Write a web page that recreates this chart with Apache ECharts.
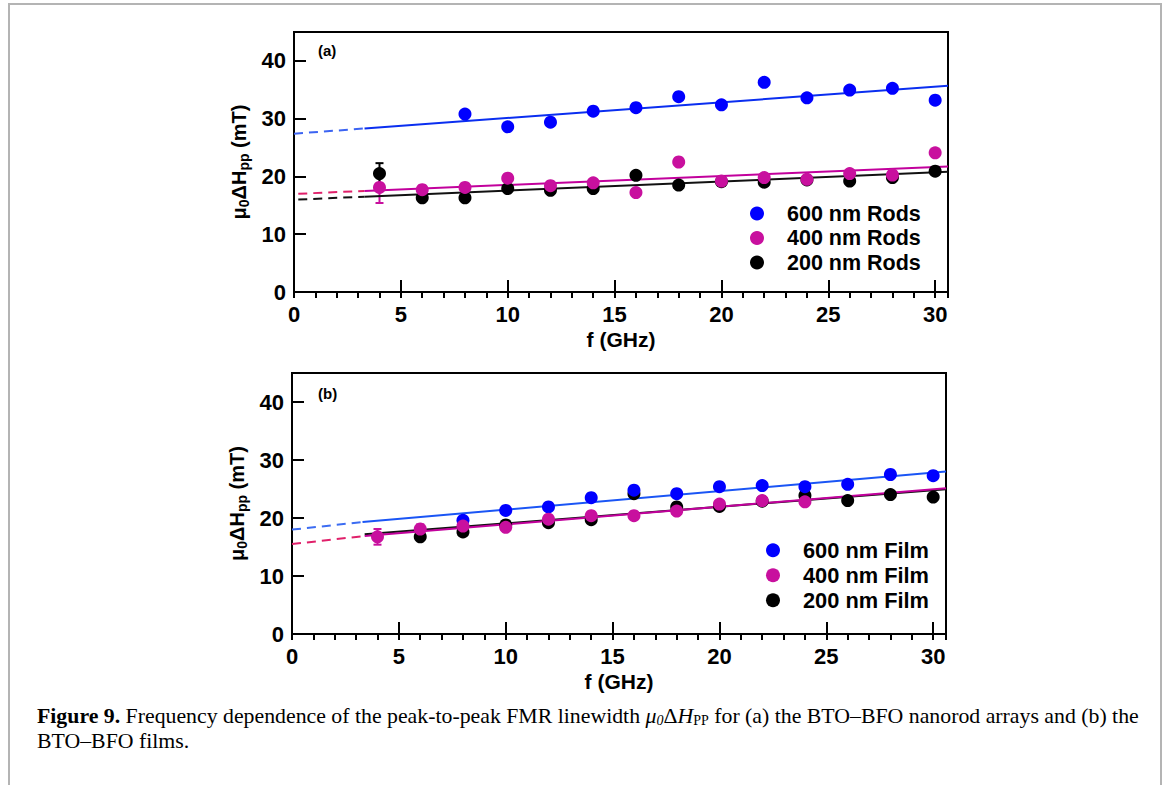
<!DOCTYPE html>
<html><head><meta charset="utf-8">
<script src="https://cdn.jsdelivr.net/npm/echarts@6/dist/echarts.min.js"></script>
<style>html,body{margin:0;padding:0;background:#fff}#c{width:1168px;height:785px}</style>
</head><body><div id="c"></div><script>
// ---------- data ----------
const freqRods600 = [8,10,12,14,16,18,20,22,24,26,28,30];
const rods600     = [30.8,28.6,29.4,31.3,31.9,33.8,32.4,36.3,33.6,34.95,35.25,33.2];
const freqRods400 = [4,6,8,10,12,14,16,18,20,22,24,26,28,30];
const rods400     = [18.1,17.7,18.1,19.7,18.4,18.9,17.2,22.5,19.2,19.8,19.5,20.5,20.25,24.1];
const freqRods200 = [4,6,8,10,12,14,16,18,20,22,24,26,28,30];
const rods200     = [20.5,16.3,16.3,17.9,17.6,17.9,20.2,18.5,19.1,19.0,19.4,19.2,19.8,20.9];

const freqFilm600 = [8,10,12,14,16,18,20,22,24,26,28,30];
const film600     = [19.6,21.3,21.9,23.5,24.8,24.2,25.4,25.6,25.4,25.8,27.5,27.3];
const freqFilm400 = [4,6,8,10,12,14,16,18,20,22,24];
const film400     = [16.75,18.1,18.6,18.4,19.8,20.4,20.4,21.2,22.4,23.0,22.8];
const freqFilm200 = [6,8,10,12,14,16,18,20,22,24,26,28,30];
const film200     = [16.75,17.6,18.8,19.2,19.7,24.2,21.9,22.0,22.9,23.9,23.0,24.05,23.6];

// error bars: [f, low, high]
const errRods600 = [[8,30.2,31.4]];
const errRods400 = [[4,15.4,20.7],[6,17.1,18.4]];
const errRods200 = [[4,18.7,22.3]];
const errFilm400 = [[4,15.4,18.1],[6,17.3,18.9]];

// linear-fit lines (endpoints): dashed extrapolation + solid fit
const fitRods600Dash  = [[0,27.4],[3.3,28.3]];
const fitRods600Solid = [[3.3,28.3],[30.6,35.7]];
const fitRods400Dash  = [[0.2,17.0],[3.3,17.5]];
const fitRods400Solid = [[3.3,17.5],[30.6,21.7]];
const fitRods200Dash  = [[0.2,16.0],[3.3,16.5]];
const fitRods200Solid = [[3.3,16.5],[30.6,20.8]];
const fitFilm600Dash  = [[0,18.0],[3.3,19.3]];
const fitFilm600Solid = [[3.3,19.3],[30.6,28.0]];
const fitFilm400Dash  = [[0,15.5],[3.4,16.9]];
const fitFilm400Solid = [[3.4,16.9],[30.6,25.15]];
const fitFilm200Solid = [[3.4,17.2],[30.6,24.95]];

const yTicks = [0,10,20,30,40];
const xTicks = [0,5,10,15,20,25,30];
const legendRods = ['600 nm Rods','400 nm Rods','200 nm Rods'];
const legendFilm = ['600 nm Film','400 nm Film','200 nm Film'];

// ---------- styling ----------
const FONT = "'Liberation Sans', Arial, Helvetica, sans-serif";
const SERIF = "'Liberation Serif', 'Times New Roman', serif";
const BLUE = '#0000ff', MAG = '#c8109e', BLK = '#000000';

function pairs(xs, ys){ return xs.map((x,i)=>[x, ys[i]]); }

function xMajor(g){
  return {type:'value', gridIndex:g, min:0, max:30.6, interval:5,
    axisLine:{show:true,onZero:false,lineStyle:{color:'#000',width:2}},
    axisTick:{show:true,inside:true,length:12,lineStyle:{color:'#000',width:2}},
    axisLabel:{margin:11,color:'#000',fontFamily:FONT,fontWeight:'bold',fontSize:22,
      formatter:v=> xTicks.indexOf(v)>=0 ? String(v) : ''},
    splitLine:{show:false},
    name:'f (GHz)', nameLocation:'middle', nameGap:37,
    nameTextStyle:{color:'#000',fontFamily:FONT,fontWeight:'bold',fontSize:21}};
}
function xMinor(g){
  return {type:'value', gridIndex:g, min:0, max:30.6, interval:1,
    axisLine:{show:false}, axisLabel:{show:false}, splitLine:{show:false},
    axisTick:{show:true,inside:true,length:6,lineStyle:{color:'#000',width:2}}};
}
function yAx(g){
  return {type:'value', gridIndex:g, min:0, max:45, interval:10,
    axisLine:{show:true,onZero:false,lineStyle:{color:'#000',width:2}},
    axisTick:{show:true,inside:true,length:12,lineStyle:{color:'#000',width:2}},
    axisLabel:{margin:8,color:'#000',fontFamily:FONT,fontWeight:'bold',fontSize:22,
      formatter:v=> yTicks.indexOf(v)>=0 ? String(v) : ''},
    splitLine:{show:false},
    name:'{a|μ}{s|0}{a|ΔH}{s|pp}{a| (mT)}', nameLocation:'middle', nameGap:38, nameRotate:90,
    nameTextStyle:{rich:{
      a:{color:'#000',fontFamily:FONT,fontWeight:'bold',fontSize:20},
      s:{color:'#000',fontFamily:FONT,fontWeight:'bold',fontSize:14,padding:[9,0,0,0]}}}};
}

function fitLine(name, data, xi, yi, color, dashed){
  return {name:name, type:'line', xAxisIndex:xi, yAxisIndex:yi, data:data,
    symbol:'none', silent:true, z:2,
    lineStyle:{color:color, width:2, type: dashed ? [9,6] : 'solid'}};
}
function errSeries(name, data, xi, yi, color){
  return {name:name, type:'custom', xAxisIndex:xi, yAxisIndex:yi, data:data, z:2, silent:true,
    encode:{x:0, y:[1,2]},
    renderItem:function(params, api){
      const x = api.value(0), lo = api.value(1), hi = api.value(2);
      const p1 = api.coord([x, lo]), p2 = api.coord([x, hi]);
      const w = 4, st = {stroke:color, lineWidth:2};
      return {type:'group', children:[
        {type:'line', shape:{x1:p1[0],y1:p1[1],x2:p2[0],y2:p2[1]}, style:st},
        {type:'line', shape:{x1:p1[0]-w,y1:p1[1],x2:p1[0]+w,y2:p1[1]}, style:st},
        {type:'line', shape:{x1:p2[0]-w,y1:p2[1],x2:p2[0]+w,y2:p2[1]}, style:st}]};
    }};
}
function scat(name, data, xi, yi, color, z){
  return {name:name, type:'scatter', xAxisIndex:xi, yAxisIndex:yi, data:data,
    symbol:'circle', symbolSize:13, itemStyle:{color:color, opacity:1}, z:z, silent:true};
}
function legendOf(names, left, top, gap, fs){
  return {data:names, orient:'vertical', left:left, top:top, itemWidth:50, itemHeight:14,
    itemGap:gap, icon:'circle', selectedMode:false, padding:0,
    textStyle:{color:'#000',fontFamily:FONT,fontWeight:'bold',fontSize:fs,lineHeight:21}};
}

const chart = echarts.init(document.getElementById('c'), null, {renderer:'svg', width:1168, height:785});
chart.setOption({
  animation:false,
  backgroundColor:'#ffffff',
  grid:[
    {left:294, top:32, width:654, height:260, show:true, borderColor:'#000', borderWidth:2, backgroundColor:'transparent'},
    {left:292, top:373, width:654, height:261, show:true, borderColor:'#000', borderWidth:2, backgroundColor:'transparent'}
  ],
  xAxis:[xMajor(0), xMinor(0), xMajor(1), xMinor(1)],
  yAxis:[yAx(0), yAx(1)],
  legend:[legendOf(legendRods, 750, 202.5, 2.5, 21.5), legendOf(legendFilm, 766, 539.3, 3, 21.8)],
  series:[
    fitLine('fitA600d', fitRods600Dash, 0,0,'#3c64f2',true),
    fitLine('fitA600s', fitRods600Solid,0,0,'#0a2ef0',false),
    fitLine('fitA400d', fitRods400Dash, 0,0,'#e0206a',true),
    fitLine('fitA400s', fitRods400Solid,0,0,'#c2009c',false),
    fitLine('fitA200d', fitRods200Dash, 0,0,'#111111',true),
    fitLine('fitA200s', fitRods200Solid,0,0,'#111111',false),
    errSeries('errA600', errRods600, 0,0, BLUE),
    errSeries('errA400', errRods400, 0,0, MAG),
    errSeries('errA200', errRods200, 0,0, BLK),
    scat('200 nm Rods', pairs(freqRods200, rods200), 0,0, BLK, 3),
    scat('400 nm Rods', pairs(freqRods400, rods400), 0,0, MAG, 4),
    scat('600 nm Rods', pairs(freqRods600, rods600), 0,0, BLUE, 5),

    fitLine('fitB600d', fitFilm600Dash, 2,1,'#3c6cf2',true),
    fitLine('fitB600s', fitFilm600Solid,2,1,'#1a55f5',false),
    fitLine('fitB200s', fitFilm200Solid,2,1,'#111111',false),
    fitLine('fitB400d', fitFilm400Dash, 2,1,'#e0206a',true),
    fitLine('fitB400s', fitFilm400Solid,2,1,'#c2009c',false),
    errSeries('errB400', errFilm400, 2,1, MAG),
    scat('200 nm Film', pairs(freqFilm200, film200), 2,1, BLK, 3),
    scat('600 nm Film', pairs(freqFilm600, film600), 2,1, BLUE, 4),
    scat('400 nm Film', pairs(freqFilm400, film400), 2,1, MAG, 5)
  ],
  graphic:[
    {type:'rect', silent:true, z:-1, shape:{x:9,y:4,width:1152,height:820},
      style:{fill:'none', stroke:'#b4b4b4', lineWidth:2}},
    {type:'text', left:318, top:43, style:{text:'(a)', fill:'#000', font:"bold 15px "+FONT}},
    {type:'text', left:318, top:386, style:{text:'(b)', fill:'#000', font:"bold 15px "+FONT}},
    {type:'text', left:37, top:704, style:{
      text:'{b|Figure 9.}{n| Frequency dependence of the peak-to-peak FMR linewidth }{i|μ}{is|0}{n|Δ}{i|H}{ns|PP}{n| for (a) the BTO–BFO nanorod arrays and (b) the}\n{n|BTO–BFO films.}',
      fill:'#000',
      rich:{
        b:{fontFamily:SERIF,fontWeight:'bold',fontSize:21.8,lineHeight:25,fill:'#000'},
        n:{fontFamily:SERIF,fontSize:21.8,lineHeight:25,fill:'#000'},
        i:{fontFamily:SERIF,fontStyle:'italic',fontSize:21.8,lineHeight:25,fill:'#000'},
        is:{fontFamily:SERIF,fontStyle:'italic',fontSize:14,lineHeight:25,padding:[9,0,0,0],fill:'#000'},
        ns:{fontFamily:SERIF,fontSize:14,lineHeight:25,padding:[9,0,0,0],fill:'#000'}
      }}}
  ]
});
</script></body></html>
